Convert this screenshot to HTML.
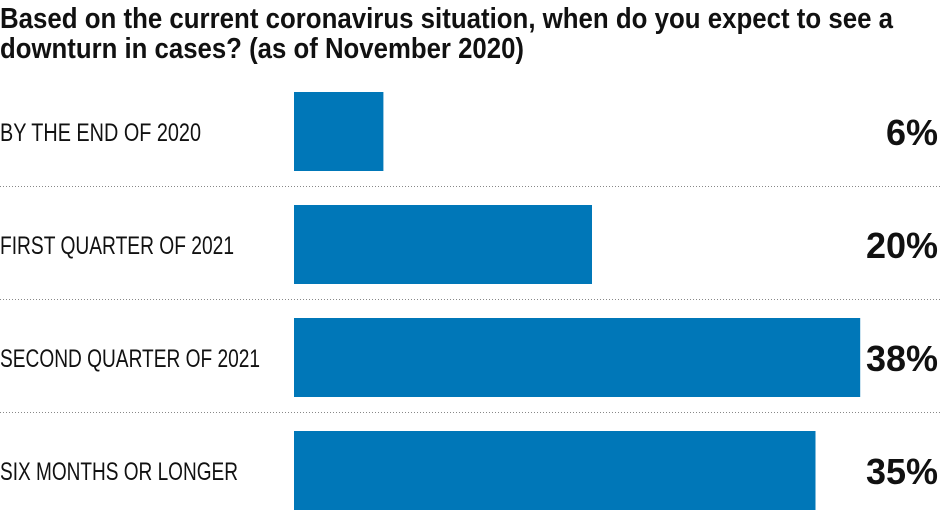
<!DOCTYPE html>
<html><head><meta charset="utf-8"><style>
html,body{margin:0;padding:0;background:#fff;width:940px;height:511px;overflow:hidden}
text{font-family:"Liberation Sans Narrow","Liberation Sans",sans-serif;fill:#111}
</style></head><body>
<svg id="chart" width="940" height="511" viewBox="0 0 940 511" xmlns="http://www.w3.org/2000/svg">
<g>
<text x="0" y="28" font-size="29" font-weight="bold" textLength="893" lengthAdjust="spacingAndGlyphs">Based on the current coronavirus situation, when do you expect to see a</text>
<text x="0" y="58" font-size="29" font-weight="bold" textLength="524" lengthAdjust="spacingAndGlyphs">downturn in cases? (as of November 2020)</text>
</g>
<g id="rows"></g>
</svg>
<script>
const categories=["BY THE END OF 2020","FIRST QUARTER OF 2021","SECOND QUARTER OF 2021","SIX MONTHS OR LONGER"];
const values=[6,20,38,35];
const valueLabels=["6%","20%","38%","35%"];
const NS="http://www.w3.org/2000/svg";
const x0=294, pxPer=14.9, rowTop=92, rowStep=113, barH=79;
function xScale(v){return v*pxPer;}
function yRow(i){return rowTop+i*rowStep;}
const g=document.getElementById('rows');
categories.forEach((c,i)=>{
  const y=yRow(i);
  const r=document.createElementNS(NS,'rect');
  
  
  r.setAttribute('x',x0);r.setAttribute('y',y);
  r.setAttribute('width',xScale(values[i]));r.setAttribute('height',barH);
  r.setAttribute('fill','#0077b8');
  g.appendChild(r);
  const t=document.createElementNS(NS,'text');
  
  
  t.setAttribute('x',0);t.setAttribute('y',y+49);
  t.setAttribute('font-size','25');
  t.textContent=c;
  g.appendChild(t);
  const maxW=[201,234,260,238][i];
  const tl=t.getComputedTextLength();
  if(tl>0){t.setAttribute('textLength',Math.min(tl,maxW));t.setAttribute('lengthAdjust','spacingAndGlyphs');}
  const p=document.createElementNS(NS,'text');
  
  
  p.setAttribute('x',938);p.setAttribute('y',y+53);
  p.setAttribute('text-anchor','end');
  p.setAttribute('font-size','36');p.setAttribute('font-weight','bold');
  p.textContent=valueLabels[i];
  g.appendChild(p);
  if(i<categories.length-1){
    const l=document.createElementNS(NS,'line');
    
    
    l.setAttribute('x1',0);l.setAttribute('x2',940);
    l.setAttribute('y1',y+barH+15.5);l.setAttribute('y2',y+barH+15.5);
    l.setAttribute('stroke','#888');l.setAttribute('stroke-dasharray','1,2');
    g.appendChild(l);
  }
});
</script>
</body></html>
